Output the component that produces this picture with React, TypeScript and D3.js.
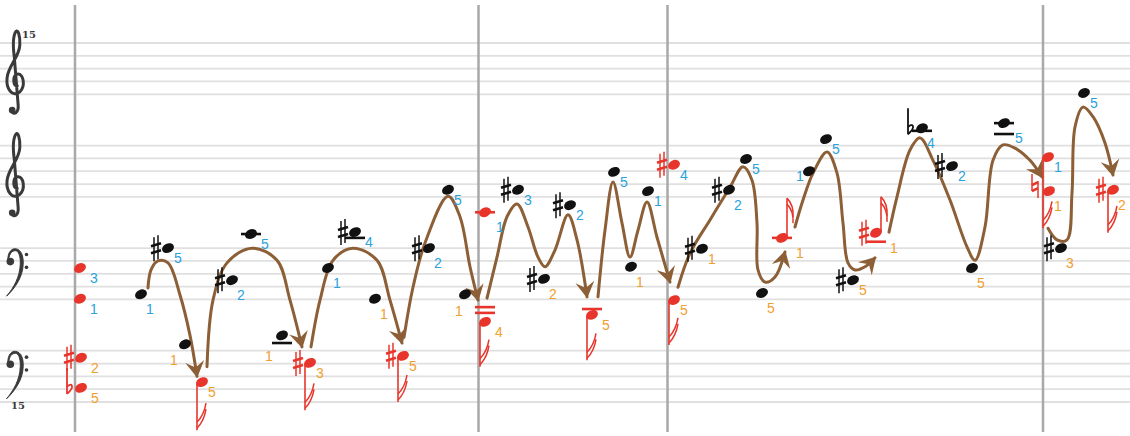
import React from 'react';
import * as d3 from 'd3';

const WIDTH = 1130;
const HEIGHT = 436;

// Staff structure (step unit = half a line spacing, 0 = top line of top staff)
const staffTopSteps = [0, 16, 32, 48];
const barlineTimes = [7.5, 47.85, 66.75, 104.3];

type Note = { t: number; k: number; acc?: string; led?: number[]; stem?: string; end?: number; f: number; c: string; p: string };

// Black notes (melody) : time, staff step, accidental, ledger steps, fingering
const blackNotes: Note[] = [
  { t: 14.1, k: 39.2, f: 1, c: 'b', p: 'd' },
  { t: 16.8, k: 32.0, acc: 'sharp', f: 5, c: 'b', p: 'r' },
  { t: 18.5, k: 47.0, f: 1, c: 'o', p: 'l' },
  { t: 23.2, k: 37.0, acc: 'sharp', f: 2, c: 'b', p: 'd' },
  { t: 25.1, k: 29.8, led: [29.8], f: 5, c: 'b', p: 'w' },
  { t: 28.2, k: 45.6, led: [46.8], f: 1, c: 'o', p: 'll' },
  { t: 32.8, k: 35.1, f: 1, c: 'b', p: 'd' },
  { t: 35.5, k: 29.5, acc: 'sharp', led: [30.4], f: 4, c: 'b', p: 'w' },
  { t: 37.5, k: 39.9, f: 1, c: 'o', p: 'd' },
  { t: 42.9, k: 32.0, acc: 'sharp', f: 2, c: 'b', p: 'd' },
  { t: 44.8, k: 22.9, f: 5, c: 'b', p: 'r' },
  { t: 46.5, k: 39.2, f: 1, c: 'o', p: 'dl' },
  { t: 51.8, k: 22.9, acc: 'sharp', f: 3, c: 'b', p: 'r' },
  { t: 54.4, k: 36.8, acc: 'sharp', f: 2, c: 'o', p: 'd' },
  { t: 57.0, k: 25.3, acc: 'sharp', f: 2, c: 'b', p: 'r' },
  { t: 61.4, k: 20.1, f: 5, c: 'b', p: 'r' },
  { t: 63.1, k: 34.9, f: 1, c: 'o', p: 'd' },
  { t: 64.8, k: 23.1, f: 1, c: 'b', p: 'r' },
  { t: 70.2, k: 32.1, acc: 'sharp', f: 1, c: 'o', p: 'r' },
  { t: 72.9, k: 22.9, acc: 'sharp', f: 2, c: 'b', p: 'd' },
  { t: 74.6, k: 18.1, f: 5, c: 'b', p: 'r' },
  { t: 76.2, k: 39.0, f: 5, c: 'o', p: 'd' },
  { t: 80.9, k: 20.0, f: 1, c: 'b', p: 'u' },
  { t: 82.6, k: 15.0, f: 5, c: 'b', p: 'r' },
  { t: 85.3, k: 37.0, acc: 'sharp', f: 5, c: 'o', p: 'r' },
  { t: 92.2, k: 13.3, acc: 'flat', led: [13.7], f: 4, c: 'b', p: 'd' },
  { t: 95.2, k: 19.2, acc: 'sharp', f: 2, c: 'b', p: 'r' },
  { t: 97.2, k: 35.1, f: 5, c: 'o', p: 'd' },
  { t: 100.4, k: 12.5, led: [12.5, 14.2], f: 5, c: 'b', p: 'wd' },
  { t: 106.1, k: 32.0, acc: 'sharp', f: 3, c: 'o', p: 'd' },
  { t: 108.4, k: 7.8, f: 5, c: 'b', p: 'r' },
];

// Red notes (bass / target notes)
const redNotes: Note[] = [
  { t: 8.0, k: 35.1, f: 3, c: 'b', p: 'w' },
  { t: 8.0, k: 39.9, f: 1, c: 'b', p: 'w' },
  { t: 8.1, k: 49.1, acc: 'sharp', f: 2, c: 'o', p: 'w' },
  { t: 8.1, k: 53.8, acc: 'flat', f: 5, c: 'o', p: 'w' },
  { t: 20.2, k: 52.9, stem: 'down', end: 60.4, f: 5, c: 'o', p: 'r' },
  { t: 31.0, k: 49.9, acc: 'sharp', stem: 'down', end: 57.3, f: 3, c: 'o', p: 'r' },
  { t: 40.3, k: 48.8, acc: 'sharp', stem: 'down', end: 56.0, f: 5, c: 'o', p: 'r' },
  { t: 48.5, k: 26.4, led: [26.4], f: 1, c: 'b', p: 'wd' },
  { t: 48.5, k: 43.5, led: [41.2, 42.1], stem: 'down', end: 50.5, f: 4, c: 'o', p: 'w' },
  { t: 59.2, k: 42.4, led: [41.5], stem: 'down', end: 49.5, f: 5, c: 'o', p: 'w' },
  { t: 67.4, k: 19.0, acc: 'sharp', f: 4, c: 'b', p: 'r' },
  { t: 67.4, k: 40.1, stem: 'down', end: 47.1, f: 5, c: 'o', p: 'r' },
  { t: 78.2, k: 30.4, led: [30.4], stem: 'up', end: 24.2, f: 1, c: 'o', p: 'ww' },
  { t: 87.6, k: 29.6, acc: 'sharp', led: [31.0], stem: 'up', end: 24.0, f: 1, c: 'o', p: 'ww' },
  { t: 104.8, k: 17.8, stem: 'down', end: 28.9, f: 1, c: 'b', p: 'r' },
  { t: 104.9, k: 23.1, acc: 'natural', f: 1, c: 'o', p: 'd' },
  { t: 111.3, k: 22.9, acc: 'sharp', stem: 'down', end: 29.6, f: 2, c: 'o', p: 'd' },
];

// Brown motion arrows: [time, step]
const arrowA: [number, number][] = [[14.8, 38.2], [15.1, 35.4], [15.8, 34.0], [16.8, 34.3], [18.0, 39.3], [19.0, 45.6], [19.7, 52.0]];
const arrowB: [number, number][] = [[20.7, 50.5], [21.3, 40.1], [22.7, 34.3], [25.2, 32.0], [27.7, 33.9], [29.0, 40.1], [30.2, 47.4]];
const arrowC: [number, number][] = [[31.1, 47.4], [32.0, 40.1], [33.3, 33.9], [35.3, 32.0], [37.7, 33.9], [39.0, 40.1], [40.2, 46.8]];
const arrowD: [number, number][] = [[40.4, 45.9], [41.3, 38.1], [42.5, 31.2], [44.8, 23.9], [46.0, 27.1], [47.0, 34.9], [47.8, 40.1]];
const arrowE: [number, number][] = [[48.7, 39.8], [49.7, 33.4], [50.7, 27.1], [51.7, 25.1], [52.8, 28.7], [53.8, 33.4], [54.5, 34.9], [55.5, 32.3], [56.8, 26.8], [57.7, 30.7], [58.7, 39.6]];
const arrowF: [number, number][] = [[59.8, 39.6], [60.5, 29.2], [61.3, 21.7], [62.2, 28.1], [63.0, 33.4], [63.8, 29.2], [64.7, 24.8], [65.7, 30.3], [67.0, 37.3]];
const arrowG: [number, number][] = [[67.8, 38.1], [69.0, 32.8], [71.0, 27.6], [73.0, 22.5], [74.3, 19.3], [75.2, 21.4], [75.7, 28.1], [75.8, 35.4], [76.5, 37.3], [77.5, 36.5], [78.5, 32.6]];
const arrowH: [number, number][] = [[79.5, 28.7], [80.3, 24.5], [81.3, 20.3], [82.7, 17.0], [83.7, 20.3], [84.3, 28.1], [84.8, 34.3], [85.5, 35.4], [86.5, 34.9], [87.5, 33.5]];
const arrowI: [number, number][] = [[88.9, 29.5], [89.7, 24.0], [91.0, 16.7], [92.0, 14.8], [93.3, 18.3], [95.0, 24.5], [96.7, 31.8], [97.5, 33.9], [98.5, 28.7], [99.3, 18.3], [100.3, 15.9], [101.5, 16.4], [103.0, 18.3], [104.2, 20.9]];
const arrowJ: [number, number][] = [[104.8, 28.9], [105.7, 30.7], [106.7, 30.7], [107.2, 23.4], [107.5, 13.1], [108.3, 10.0], [109.3, 11.5], [110.5, 15.6], [111.3, 20.6]];
const arrows = [arrowA, arrowB, arrowC, arrowD, arrowE, arrowF, arrowG, arrowH, arrowI, arrowJ];

// ---- styles ----
const RED = '#e8352b';
const BLACK = '#111111';
const BLUE = '#2aa2dc';
const ORANGE = '#f0a02c';
const BROWN = '#8c5f36';
const STAFF = '#e0e0e0';
const BAR = '#a9a9a9';
const CLEF = '#3a3a3a';

const placements: Record<string, [number, number]> = {
  r: [10, 10], d: [9, 15], l: [-11, 16], w: [14, 10], ll: [-13, 21], dl: [-6, 17], u: [-9, 5], ww: [18, 15], wd: [15, 15],
};

const x = d3.scaleLinear().domain([0, 113]).range([0, WIDTH]);
const y = d3.scaleLinear().domain([0, 56]).range([43, 402]);
const curve = d3.line<[number, number]>().x(d => x(d[0])).y(d => y(d[1])).curve(d3.curveCatmullRom.alpha(0.5));

function Sharp({ cx, cy, color }: { cx: number; cy: number; color: string }) {
  return (
    <g stroke={color} fill="none">
      <line x1={cx - 2} y1={cy - 11} x2={cx - 2} y2={cy + 13} strokeWidth={1.5} />
      <line x1={cx + 2} y1={cy - 13} x2={cx + 2} y2={cy + 11} strokeWidth={1.5} />
      <line x1={cx - 5} y1={cy - 2} x2={cx + 5} y2={cy - 5} strokeWidth={2.6} />
      <line x1={cx - 5} y1={cy + 5} x2={cx + 5} y2={cy + 2} strokeWidth={2.6} />
    </g>
  );
}

function Flat({ cx, cy, color }: { cx: number; cy: number; color: string }) {
  return (
    <g stroke={color} fill="none" strokeWidth={1.8}>
      <line x1={cx - 3} y1={cy - 20} x2={cx - 3} y2={cy + 6} />
      <path d={`M${cx - 3},${cy - 1} C${cx + 1},${cy - 6} ${cx + 6},${cy - 2} ${cx - 3},${cy + 6}`} />
    </g>
  );
}

function Natural({ cx, cy, color }: { cx: number; cy: number; color: string }) {
  return (
    <g stroke={color} fill="none">
      <line x1={cx - 3} y1={cy - 12} x2={cx - 3} y2={cy + 5} strokeWidth={1.5} />
      <line x1={cx + 3} y1={cy - 5} x2={cx + 3} y2={cy + 12} strokeWidth={1.5} />
      <line x1={cx - 3} y1={cy - 1} x2={cx + 3} y2={cy - 4} strokeWidth={2.4} />
      <line x1={cx - 3} y1={cy + 5} x2={cx + 3} y2={cy + 2} strokeWidth={2.4} />
    </g>
  );
}

function NoteMark({ n, color }: { n: Note; color: string }) {
  const cx = x(n.t);
  const cy = y(n.k);
  const [dx, dy] = placements[n.p];
  const accX = cx - 12;
  const parts: React.ReactNode[] = [];
  (n.led || []).forEach((lk, i) => {
    parts.push(<line key={'l' + i} x1={cx - 10} x2={cx + 10} y1={y(lk)} y2={y(lk)} stroke={color} strokeWidth={2.6} />);
  });
  if (n.acc === 'sharp') parts.push(<Sharp key="acc" cx={accX} cy={cy} color={color} />);
  if (n.acc === 'flat') parts.push(<Flat key="acc" cx={accX + 1} cy={cy} color={color} />);
  if (n.acc === 'natural') parts.push(<Natural key="acc" cx={accX - 2} cy={cy - 5} color={color} />);
  if (n.stem === 'down' && n.end !== undefined) {
    const sx = cx - 5;
    const ey = y(n.end);
    parts.push(<line key="stem" x1={sx} x2={sx} y1={cy + 1} y2={ey} stroke={color} strokeWidth={1.6} />);
    [0, 1].forEach(i => {
      const by = ey - 2 - i * 6;
      parts.push(<path key={'fl' + i} d={`M${sx},${by} Q${sx + 7},${by - 7} ${sx + 9},${by - 19}`} stroke={color} strokeWidth={1.5} fill="none" />);
    });
  }
  if (n.stem === 'up' && n.end !== undefined) {
    const sx = cx + 5;
    const ey = y(n.end);
    parts.push(<line key="stem" x1={sx} x2={sx} y1={cy - 1} y2={ey} stroke={color} strokeWidth={1.6} />);
    [0, 1].forEach(i => {
      const ty = ey + i * 6;
      parts.push(<path key={'fl' + i} d={`M${sx},${ty} Q${sx + 7},${ty + 7} ${sx + 6},${ty + 19}`} stroke={color} strokeWidth={1.5} fill="none" />);
    });
  }
  parts.push(<ellipse key="head" cx={cx} cy={cy} rx={6.2} ry={4.6} transform={`rotate(-25 ${cx} ${cy})`} fill={color} />);
  parts.push(
    <text key="f" x={cx + dx} y={cy + dy} textAnchor="middle" dominantBaseline="central" fontSize={14}
      fontFamily="'Liberation Sans Narrow', 'Liberation Sans', Arial, sans-serif" fill={n.c === 'b' ? BLUE : ORANGE}>{n.f}</text>
  );
  return <g>{parts}</g>;
}

function TrebleClef({ cx, gy }: { cx: number; gy: number }) {
  const sx = 8.5, sy = 12.2;
  const d = 'M0.15,0.35 C-0.35,0.35 -0.45,-0.45 0.15,-0.6 C0.9,-0.7 1.15,0.4 0.45,0.85 C-0.4,1.35 -1.2,0.6 -1.05,-0.3 C-0.9,-1.3 0.4,-2.0 0.45,-3.0 C0.5,-3.8 0.2,-4.3 0.0,-4.1 C-0.4,-3.7 -0.35,-2.8 -0.2,-2.0 L0.25,1.9 C0.35,2.6 -0.3,2.8 -0.55,2.4';
  return (
    <g>
      <path transform={`translate(${cx},${gy}) scale(${sx},${sy})`} d={d} fill="none" stroke={CLEF} strokeWidth={3}
        vectorEffect="non-scaling-stroke" strokeLinecap="round" strokeLinejoin="round" />
      <circle cx={cx - 0.45 * sx} cy={gy + 2.35 * sy} r={3.3} fill={CLEF} />
    </g>
  );
}

function BassClef({ x0, fy }: { x0: number; fy: number }) {
  const sx = 8.3, sy = 12.8;
  const d = 'M0.1,0 C0.05,-0.75 0.65,-1.0 1.05,-0.95 C1.7,-0.9 2.0,-0.4 1.95,0.25 C1.9,1.25 1.0,2.1 -0.05,2.75 C0.8,2.1 1.55,1.25 1.6,0.25 C1.65,-0.45 1.35,-0.8 1.0,-0.8 C0.6,-0.8 0.3,-0.6 0.2,-0.1 Z';
  return (
    <g>
      <path transform={`translate(${x0},${fy}) scale(${sx},${sy})`} d={d} fill={CLEF} stroke={CLEF} strokeWidth={1}
        vectorEffect="non-scaling-stroke" />
      <circle cx={x0 + 0.4 * sx} cy={fy + 0.05 * sy} r={3.8} fill={CLEF} />
      <circle cx={x0 + 2.35 * sx} cy={fy - 0.5 * sy} r={1.8} fill={CLEF} />
      <circle cx={x0 + 2.35 * sx} cy={fy + 0.5 * sy} r={1.8} fill={CLEF} />
    </g>
  );
}

export default function App() {
  return (
    <svg width={WIDTH} height={HEIGHT} style={{ position: 'absolute', left: 0, top: 0, background: '#fff' }}>
      <defs>
        <marker id="ah" viewBox="-17 -11 19 22" refX={0} refY={0} markerWidth={19} markerHeight={22}
          markerUnits="userSpaceOnUse" orient="auto">
          <path d="M1.5,0 L-15,-9.5 L-9,0 L-15,9.5 Z" fill={BROWN} />
        </marker>
      </defs>
      {/* staff lines */}
      {staffTopSteps.map((top, si) => (
        <g key={si}>
          {[0, 2, 4, 6, 8].map(o => (
            <line key={o} x1={0} x2={WIDTH} y1={y(top + o)} y2={y(top + o)} stroke={STAFF} strokeWidth={1.8} />
          ))}
        </g>
      ))}
      {/* barlines */}
      {barlineTimes.map((t, i) => (
        <line key={i} x1={x(t)} x2={x(t)} y1={5} y2={432} stroke={BAR} strokeWidth={2.5} />
      ))}
      {/* clefs */}
      <TrebleClef cx={16} gy={y(staffTopSteps[0] + 6)} />
      <text x={22} y={38} fontSize={10} fontWeight="bold" fontFamily="'DejaVu Serif', serif" fill={CLEF}>15</text>
      <TrebleClef cx={16} gy={y(staffTopSteps[1] + 6)} />
      <BassClef x0={7} fy={y(staffTopSteps[2] + 2)} />
      <BassClef x0={7} fy={y(staffTopSteps[3] + 2)} />
      <text x={11} y={409} fontSize={10} fontWeight="bold" fontFamily="'DejaVu Serif', serif" fill={CLEF}>15</text>
      {/* arrows */}
      {arrows.map((a, i) => (
        <path key={i} d={curve(a) || ''} fill="none" stroke={BROWN} strokeWidth={3} strokeLinecap="round" markerEnd="url(#ah)" />
      ))}
      {/* notes */}
      {redNotes.map((n, i) => <NoteMark key={'r' + i} n={n} color={RED} />)}
      {blackNotes.map((n, i) => <NoteMark key={'b' + i} n={n} color={BLACK} />)}
    </svg>
  );
}
